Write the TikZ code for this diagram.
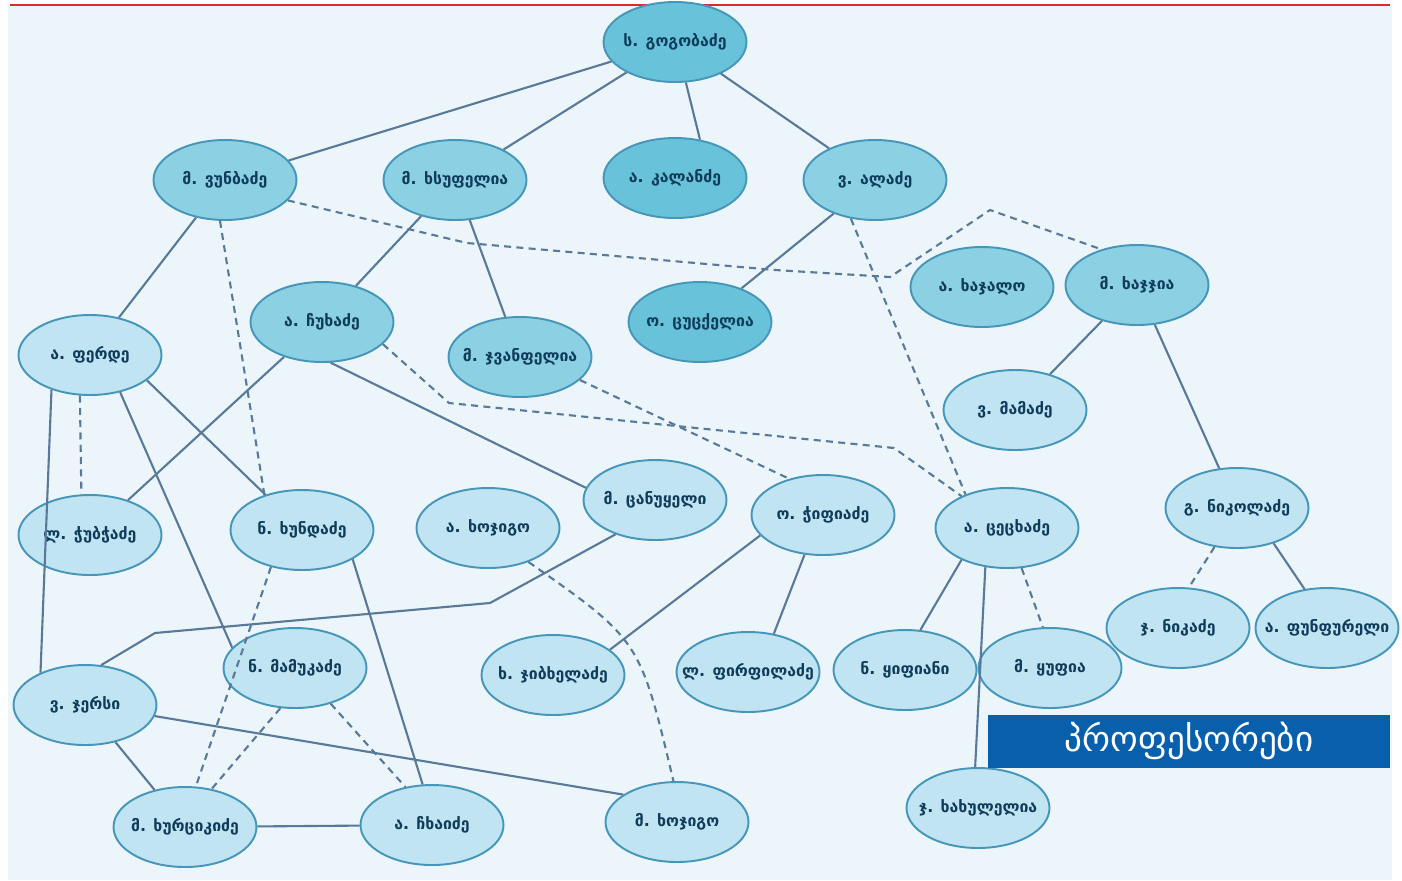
\documentclass[tikz,border=0pt]{standalone}
\usepackage{fontspec}
\usepackage{tikz}
\usetikzlibrary{shapes.geometric}
\newfontfamily\geo{DejaVu Sans}
\definecolor{scrbg}{RGB}{236, 245, 250}
\definecolor{linegray}{RGB}{88, 122, 152}
\definecolor{rimblue}{RGB}{70, 150, 185}
\definecolor{filldark}{RGB}{104, 195, 218}
\definecolor{fillmid}{RGB}{140, 208, 228}
\definecolor{filllight}{RGB}{192, 228, 242}
\definecolor{inkblue}{RGB}{15, 60, 90}
\definecolor{tagblue}{RGB}{8, 96, 172}
\definecolor{tvred}{RGB}{225, 40, 50}

\begin{document}
\begin{tikzpicture}[x=0.02cm, y=-0.02cm,
  person/.style={ellipse, draw=rimblue, line width=1.1pt, fill=filllight,
    minimum width=2.86cm, minimum height=1.6cm, inner xsep=-14pt, inner ysep=0pt,
    font=\geo\bfseries\fontsize{9}{11}\selectfont, text=inkblue},
  elder/.style={person, fill=fillmid},
  head/.style={person, fill=filldark},
  tie/.style={draw=linegray, line width=1.2pt},
  loose/.style={tie, dash pattern=on 4pt off 3pt}]
\useasboundingbox (0,0) rectangle (1402,880);
\fill[white] (0,0) rectangle (1402,880);
\fill[scrbg] (8,6) rectangle (1392,880);
\draw[tvred, line width=1.6pt] (10,5) -- (1390,5);

% top of the tree
\node[head] (n1) at (675,42) {ს. გოგობაძე};
\node[elder] (n2) at (225,180) {მ. ვუნბაძე};
\node[elder] (n3) at (455,180) {მ. ხსუფელია};
\node[head] (n4) at (675,178) {ა. კალანძე};
\node[elder] (n5) at (875,180) {ვ. ალაძე};
\node[elder] (n6) at (322,322) {ა. ჩუხაძე};
\node[elder] (n7) at (520,357) {მ. ჯვანფელია};
\node[head] (n8) at (700,322) {ო. ცუცქელია};
\node[elder] (n9) at (982,287) {ა. ხაჯალო};
\node[elder] (n10) at (1137,285) {მ. ხაჯჯია};

% middle rows
\node[person] (n11) at (90,355) {ა. ფერდე};
\node[person] (n12) at (1015,410) {ვ. მამაძე};
\node[person] (n13) at (90,535) {ლ. ჭუბჭაძე};
\node[person] (n14) at (302,530) {ნ. ხუნდაძე};
\node[person] (n15) at (488,528) {ა. ხოჯიგო};
\node[person] (n16) at (655,500) {მ. ცანუყელი};
\node[person] (n17) at (823,515) {ო. ჭიფიაძე};
\node[person] (n18) at (1007,528) {ა. ცეცხაძე};
\node[person] (n19) at (1237,508) {გ. ნიკოლაძე};
\node[person] (n20) at (1178,628) {ჯ. ნიკაძე};
\node[person] (n21) at (1327,628) {ა. ფუნფურელი};
\node[person] (n22) at (295,668) {ნ. მამუკაძე};
\node[person] (n23) at (553,675) {ხ. ჯიბხელაძე};
\node[person] (n24) at (748,672) {ლ. ფირფილაძე};
\node[person] (n25) at (905,670) {ნ. ყიფიანი};
\node[person] (n26) at (1050,668) {მ. ყუფია};

% bottom rows
\node[person] (n27) at (85,705) {ვ. ჯერსი};
\node[person] (n28) at (185,827) {მ. ხურციკიძე};
\node[person] (n29) at (432,825) {ა. ჩხაიძე};
\node[person] (n30) at (677,822) {მ. ხოჯიგო};
\node[person] (n31) at (978,808) {ჯ. ხახულელია};

\node[fill=tagblue, text=white, minimum width=8.04cm, minimum height=1.06cm,
  inner sep=0pt, font=\geo\fontsize{20}{22}\selectfont] (tag) at (1189,741) {პროფესორები};

% solid links
\draw[tie] (n1) -- (n2);
\draw[tie] (n1) -- (n3);
\draw[tie] (n1.-75) -- (n4.57);
\draw[tie] (n1) -- (n5);
\draw[tie] (n2) -- (n11);
\draw[tie] (n3) -- (n6);
\draw[tie] (n3) -- (n7);
\draw[tie] (n5) -- (n8);
\draw[tie] (n10) -- (n12);
\draw[tie] (n10) -- (n19);
\draw[tie] (n11.222) -- (n27.144);
\draw[tie] (n11.-51) -- (n22.162);
\draw[tie] (n11.-24) -- (n14.136);
\draw[tie] (n6) -- (n13);
\draw[tie] (n6.-78) -- (n16.170);
\draw[tie] (n16.221) -- (490,603) -- (155,633) -- (n27.68);
\draw[tie] (n27.-9) -- (n30.153);
\draw[tie] (n27) -- (n28);
\draw[tie] (n28) -- (n29);
\draw[tie] (n14.-30) -- (n29.103);
\draw[tie] (n17.198) -- (n23.24);
\draw[tie] (n17.-115) -- (n24.56);
\draw[tie] (n18.215) -- (n25.69);
\draw[tie] (n18.-119) -- (n31.94);
\draw[tie] (n19.-44) -- (n21.120);

% dashed links
\draw[loose] (n2.-97) -- (n14.137);
\draw[loose] (n2.-18) -- (467,243) -- (775,270) -- (890,277) -- (990,210) -- (n10.135);
\draw[loose] (n11.-104) -- (n13.102);
\draw[loose] (n5.-122) -- (n18.141);
\draw[loose] (n6.-20) -- (449,403) -- (894,448) -- (n18.145);
\draw[loose] (n7.-21) -- (n17.133);
\draw[loose] (n14.230) -- (n28.75);
\draw[loose] (n22.-110) -- (n28.55);
\draw[loose] (n22.-45) -- (n29.125);
\draw[loose] (n15.-40) .. controls (640,640) .. (n30.95);
\draw[loose] (n18.-70) -- (n26.100);
\draw[loose] (n19.-120) -- (n20.75);
\end{tikzpicture}
\end{document}
